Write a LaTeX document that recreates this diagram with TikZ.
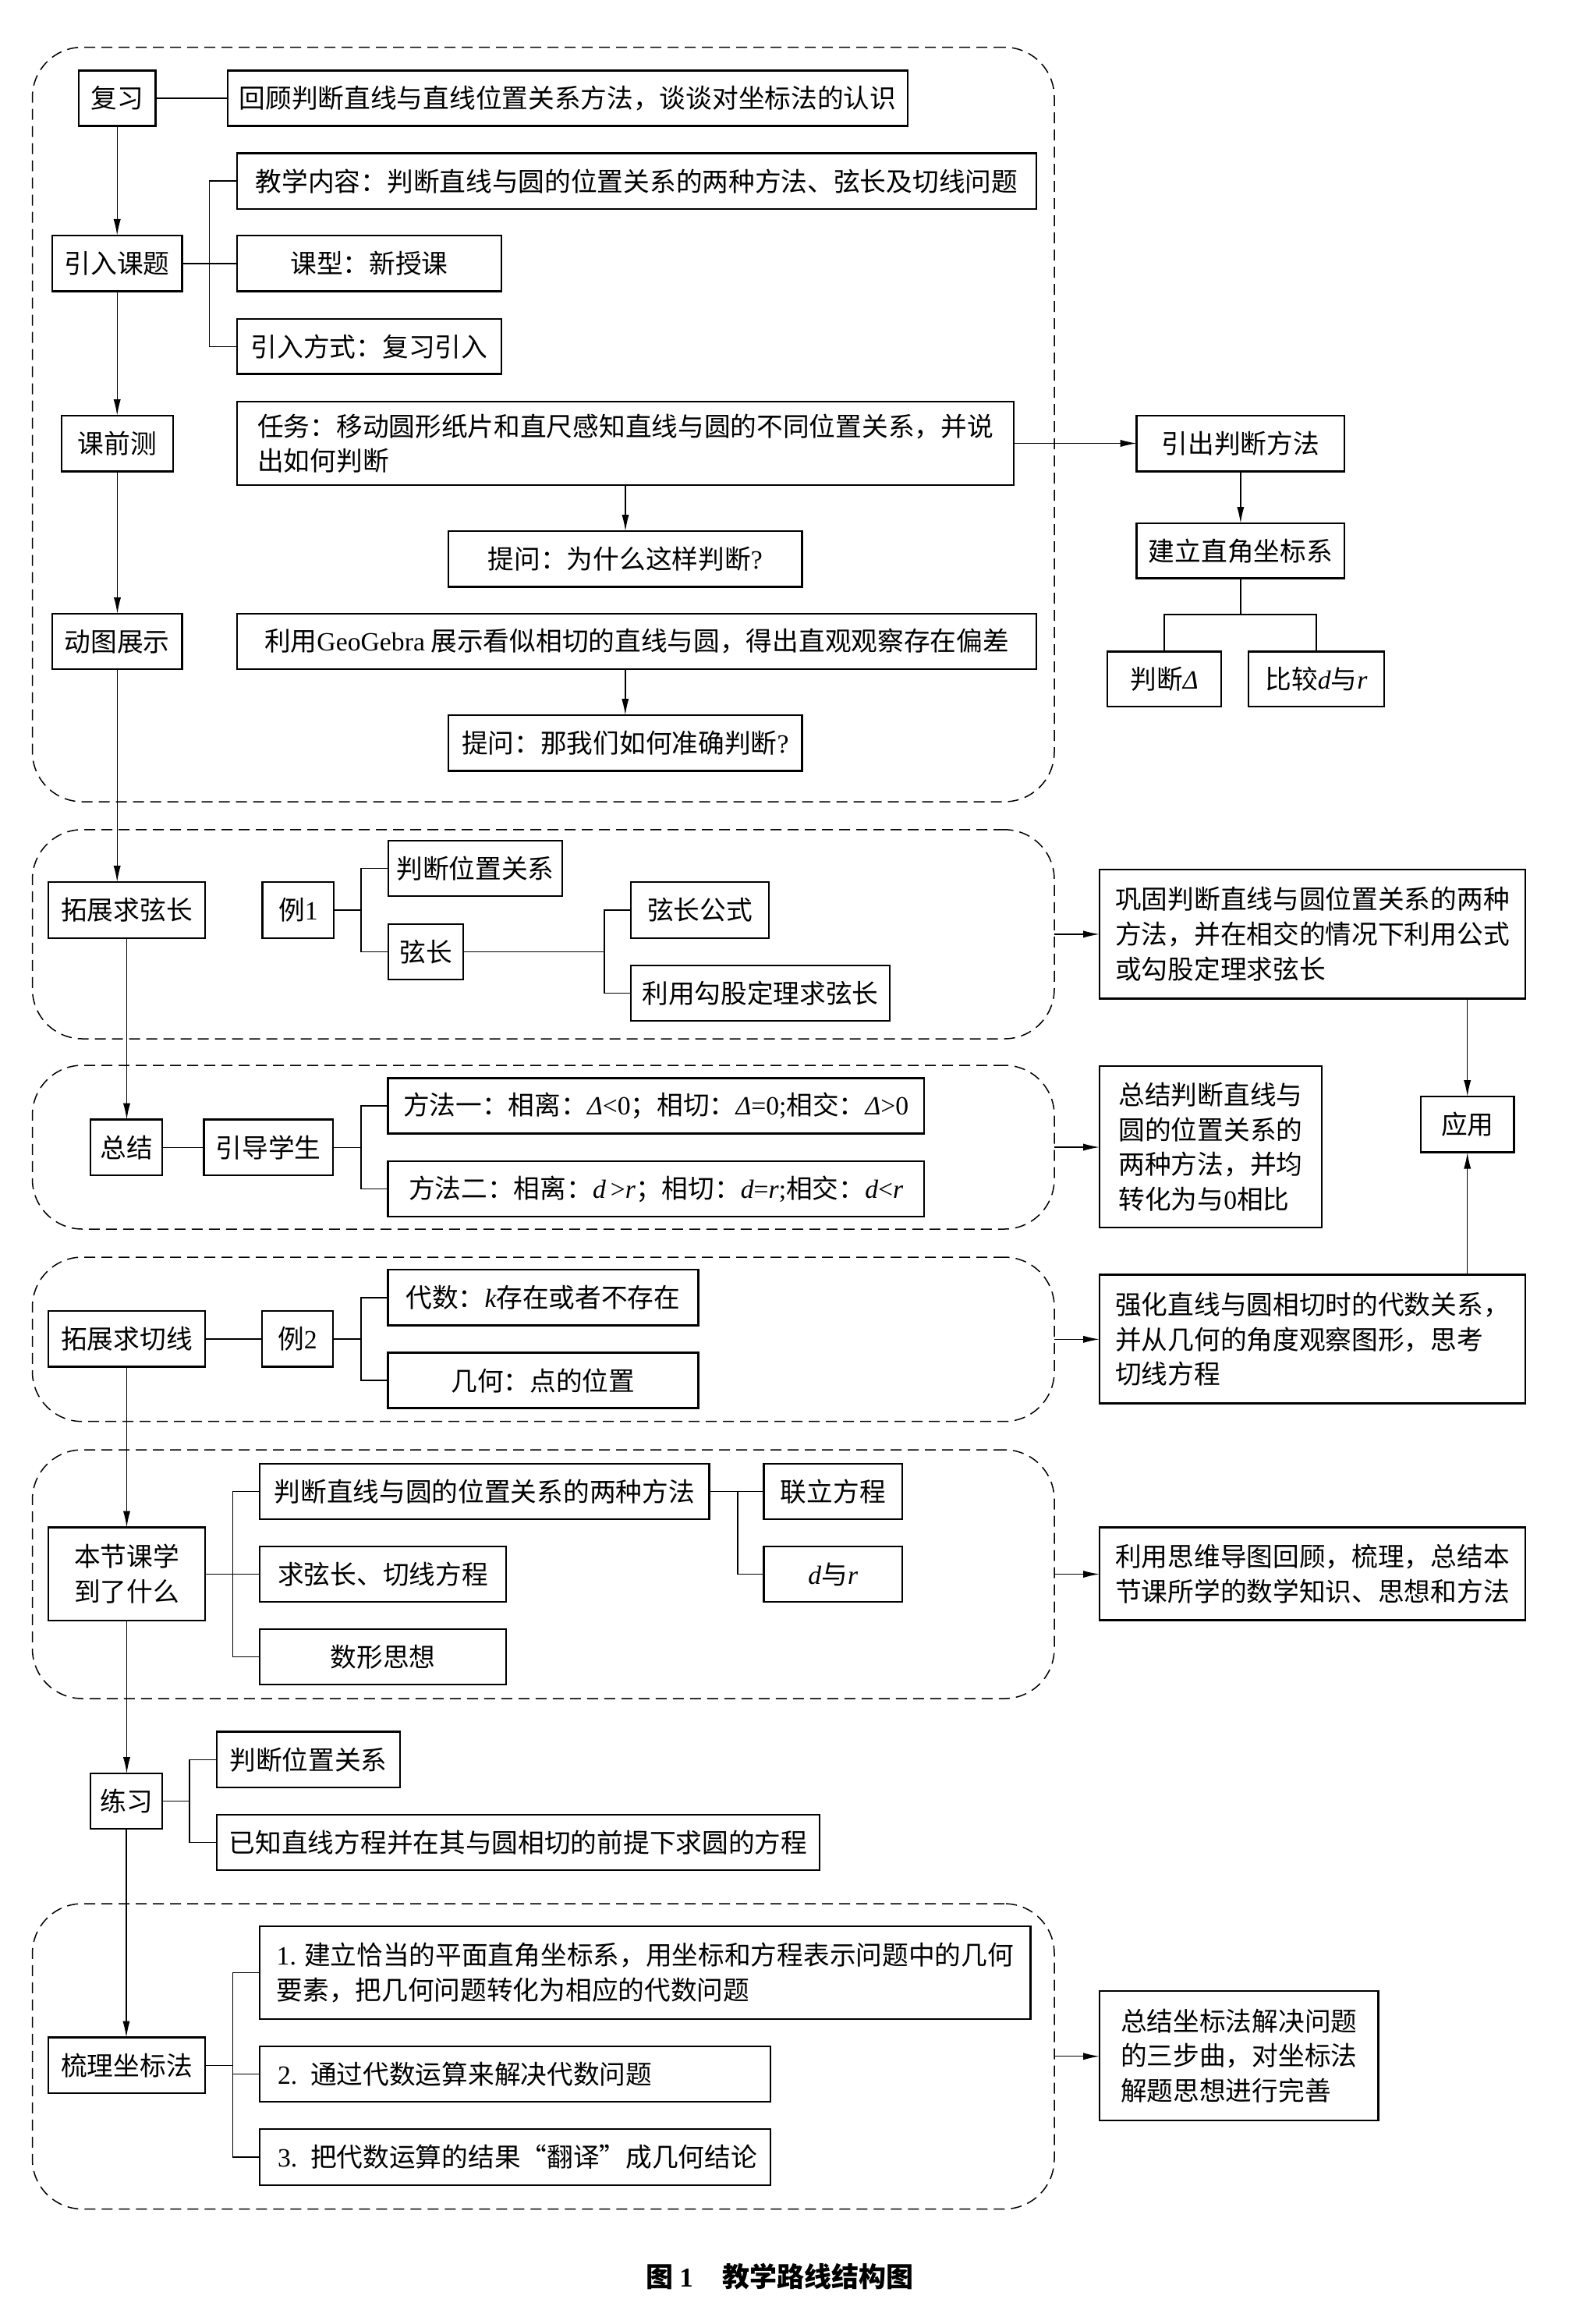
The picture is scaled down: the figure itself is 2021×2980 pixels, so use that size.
\documentclass[tikz,border=0pt]{standalone}
\usepackage{fontspec}
\setmainfont{Noto Sans CJK SC}
\newfontfamily\timesf{Liberation Serif}
\newcommand\tmr[1]{{\timesf #1}}
\newcommand\tmi[1]{{\timesf\itshape #1}}
\usetikzlibrary{arrows.meta}
\newcommand\mainsz{\fontsize{16.85pt}{22.3pt}\selectfont}
% box from corner (x1,y1) to (x2,y2) in reference pixels
\newcommand\mybox[7][]{%
  \pgfmathsetmacro\bxw{(#5-#3)*0.5}%
  \pgfmathsetmacro\bxh{(#6-#4)*0.5}%
  \pgfmathsetmacro\bxtw{(#5-#3)*0.5-23}%
  \pgfmathsetmacro\bxx{(#3+#5)/2}%
  \pgfmathsetmacro\bxy{(#4+#6)/2}%
  \node[bx,minimum width=\bxw pt,minimum height=\bxh pt,#1] (#2) at (\bxx,\bxy) {#7};}
\newcommand\mysectionbox[5]{%
  \pgfmathsetmacro\bxw{(#4-#2)*0.5}%
  \pgfmathsetmacro\bxh{(#5-#3)*0.5}%
  \pgfmathsetmacro\bxx{(#2+#4)/2}%
  \pgfmathsetmacro\bxy{(#3+#5)/2}%
  \node[dsec,minimum width=\bxw pt,minimum height=\bxh pt] (#1) at (\bxx,\bxy) {};}
\begin{document}
\begin{tikzpicture}[x=0.5pt,y=-0.5pt,line width=0.7pt,
  bx/.style={draw,line width=1.3pt,inner sep=0pt,outer sep=0pt,align=center,font=\mainsz},
  lft/.style={text width=\bxtw pt,align=left},
  dsec/.style={draw,line width=0.75pt,dash pattern=on 7pt off 4pt,rounded corners=32pt,inner sep=0pt,outer sep=0pt},
  arr/.style={-{Latex[length=10.5pt,width=4.6pt]},line width=0.7pt},
  conn/.style={line width=0.7pt}]
\useasboundingbox (0,0) rectangle (2021,2980);

% dashed sections
\mysectionbox{sec1}{41.5}{60.6}{1352}{1028}
\mysectionbox{sec2}{41.5}{1063.8}{1352}{1332}
\mysectionbox{sec3}{41.5}{1366}{1352}{1576}
\mysectionbox{sec4}{41.5}{1612}{1352}{1822.7}
\mysectionbox{sec5}{41.5}{1859}{1352}{2178}
\mysectionbox{sec6}{41.5}{2441}{1352}{2832.5}

% section 1
\mybox{fuxi}{100.8}{90.6}{199.6}{161.4}{复习}
\mybox{huigu}{292}{90.6}{1164}{161.4}{回顾判断直线与直线位置关系方法，谈谈对坐标法的认识}
\mybox{jxnr}{304}{196.4}{1329}{267.9}{教学内容：判断直线与圆的位置关系的两种方法、弦长及切线问题}
\mybox{yinru}{67}{302}{233.4}{373.7}{引入课题}
\mybox{kexing}{304}{302}{643}{373.7}{课型：新授课}
\mybox{yrfs}{304}{408.8}{643}{479.6}{引入方式：复习引入}
\mybox{kqc}{79}{533}{222}{604.6}{课前测}
\mybox[align=left]{renwu}{304}{515}{1300}{622}{任务：移动圆形纸片和直尺感知直线与圆的不同位置关系，并说\\出如何判断}
\mybox{tw1}{575}{681}{1028.6}{752.6}{提问：为什么这样判断\tmr{?}}
\mybox{dtzs}{67}{787}{233.4}{858}{动图展示}
\mybox{geo}{304}{787}{1329}{858}{利用\tmr{GeoGebra} 展示看似相切的直线与圆，得出直观观察存在偏差}
\mybox{tw2}{575}{917}{1028.6}{988.5}{提问：那我们如何准确判断\tmr{?}}
\mybox{yinchu}{1457.7}{533}{1724}{604.6}{引出判断方法}
\mybox{jianli}{1457.7}{671}{1724}{741.7}{建立直角坐标系}
\mybox{pdD}{1420}{835.5}{1566}{906}{判断\tmi{Δ}}
\mybox{bjdr}{1601}{835.5}{1775}{906}{比较\tmi{d}与\tmi{r}}

% section 2
\mybox{tzxc}{62}{1131}{263}{1203}{拓展求弦长}
\mybox{li1}{336.7}{1131}{428}{1203}{例\tmr{1}}
\mybox{pdwz}{498}{1078}{721}{1149}{判断位置关系}
\mybox{xc}{498}{1185}{594}{1256}{弦长}
\mybox{xcgs}{809}{1131}{986}{1203}{弦长公式}
\mybox{ggdl}{809}{1238}{1141}{1309}{利用勾股定理求弦长}
\mybox[align=left]{gg}{1410}{1114.8}{1956}{1280.6}{巩固判断直线与圆位置关系的两种\\方法，并在相交的情况下利用公式\\或勾股定理求弦长}

% section 3
\mybox{zj}{116}{1435.6}{208}{1507}{总结}
\mybox{ydxs}{261.5}{1435.6}{427}{1507}{引导学生}
\mybox{ff1}{497.4}{1382.6}{1185}{1453.4}{方法一：相离：\tmi{Δ}\tmr{<0}；相切：\tmi{Δ}\tmr{=0;}相交：\tmi{Δ}\tmr{>0}}
\mybox{ff2}{497.4}{1489}{1185}{1560}{方法二：相离：\tmi{d}\hspace{3pt}\tmr{>}\tmi{r}；相切：\tmi{d}\tmr{=}\tmi{r}\tmr{;}相交：\tmi{d}\tmr{<}\tmi{r}}
\mybox[align=left]{zjpd}{1410}{1367}{1695}{1574}{总结判断直线与\\圆的位置关系的\\两种方法，并均\\转化为与\tmr{0}相比}
\mybox{yy}{1822}{1406}{1941.4}{1477.7}{应用}

% section 4
\mybox{tzqx}{62}{1681}{263}{1752.6}{拓展求切线}
\mybox{li2}{336}{1681}{427}{1752.6}{例\tmr{2}}
\mybox{ds}{497.4}{1628}{895.4}{1699.6}{代数：\tmi{k}存在或者不存在}
\mybox{jh}{497.4}{1734.7}{895.4}{1805.5}{几何：点的位置}
\mybox[align=left]{qh}{1410}{1634.6}{1956}{1799.7}{强化直线与圆相切时的代数关系，\\并从几何的角度观察图形，思考\\切线方程}

% section 5
\mybox{bjk}{62}{1958.5}{263}{2078}{本节课学\\到了什么}
\mybox{pdff}{333}{1877}{909.4}{1948}{判断直线与圆的位置关系的两种方法}
\mybox{qxc}{333}{1983}{649}{2054}{求弦长、切线方程}
\mybox{sxsx}{333}{2089}{649}{2160}{数形思想}
\mybox{lianli}{979.6}{1877}{1157}{1948}{联立方程}
\mybox{dyr}{979.6}{1983}{1157}{2054}{\tmi{d}与\tmi{r}}
\mybox[align=left]{lysw}{1410}{1958.5}{1956}{2077.5}{利用思维导图回顾，梳理，总结本\\节课所学的数学知识、思想和方法}

% practice
\mybox{lx}{116}{2274}{208}{2345}{练习}
\mybox{pdwz2}{278}{2220.6}{513}{2292}{判断位置关系}
\mybox{yz}{278}{2327}{1051}{2398}{已知直线方程并在其与圆相切的前提下求圆的方程}

% section 6
\mybox{slzb}{62}{2612.5}{263}{2684}{梳理坐标法}
\mybox[align=left]{it1}{333}{2470}{1321.6}{2589}{\tmr{1.} 建立恰当的平面直角坐标系，用坐标和方程表示问题中的几何\\要素，把几何问题转化为相应的代数问题}
\mybox[lft]{it2}{333}{2624}{988}{2695}{\tmr{2.} 通过代数运算来解决代数问题}
\mybox[lft]{it3}{333}{2730}{988}{2802}{\tmr{3.} 把代数运算的结果“翻译”成几何结论}
\mybox[align=left]{zjzb}{1410}{2553}{1767.6}{2719}{总结坐标法解决问题\\的三步曲，对坐标法\\解题思想进行完善}

% caption
\node[font=\fontsize{17.5pt}{20pt}\selectfont\bfseries] (cap) at (1000,2919) {图\hspace{4pt}\tmr{1}\hspace{19pt}教学路线结构图};

% main spine
\draw[arr] (fuxi.south) -- (yinru.north);
\draw[arr] (yinru.south) -- (yinru.south |- kqc.north);
\draw[arr] (kqc.south) -- (kqc.south |- dtzs.north);
\draw[arr] (dtzs.south) -- (dtzs.south |- tzxc.north);
\draw[arr] (tzxc.south) -- (tzxc.south |- zj.north);
\draw[arr] (tzqx.south) -- (tzqx.south |- bjk.north);
\draw[arr] (bjk.south) -- (bjk.south |- lx.north);
\draw[arr] (lx.south) -- (lx.south |- slzb.north);

% section 1 links
\draw[conn] (fuxi.east) -- (huigu.west);
\draw[conn] (yinru.east) -- (kexing.west);
\draw[conn] (jxnr.west) -- ++(-35.5,0) |- (yrfs.west);
\draw[arr] (renwu.south) -- (renwu.south |- tw1.north);
\draw[arr] (tw2.north |- geo.south) -- (tw2.north);
\draw[arr] (renwu.east) -- (renwu.east -| yinchu.west);
\draw[arr] (yinchu.south) -- (jianli.north);
\draw[conn] (jianli.south) -- ++(0,46.3) coordinate (tj);
\draw[conn] (pdD.north) |- (tj) -| (bjdr.north);

% section 2 links
\draw[conn] (li1.east) -- ++(35,0) coordinate (b1);
\draw[conn] (pdwz.west) -| (b1) |- (xc.west);
\draw[conn] (xc.east) -- ++(181,0) coordinate (b2);
\draw[conn] (xcgs.west) -| (b2) |- (ggdl.west);

% section 3 links
\draw[conn] (zj.east) -- (ydxs.west);
\draw[conn] (ydxs.east) -- ++(36,0) coordinate (b3);
\draw[conn] (ff1.west) -| (b3) |- (ff2.west);

% section 4 links
\draw[conn] (tzqx.east) -- (li2.west);
\draw[conn] (li2.east) -- ++(36,0) coordinate (b4);
\draw[conn] (ds.west) -| (b4) |- (jh.west);

% section 5 links
\draw[conn] (bjk.east) -- (bjk.east -| qxc.west);
\draw[conn] (pdff.west) -- ++(-34.5,0) |- (sxsx.west);
\draw[conn] (pdff.east) -- (pdff.east -| lianli.west);
\draw[conn] (pdff.east) ++(36.4,0) coordinate (b6) |- (dyr.west);

% practice links
\draw[conn] (lx.east) -- ++(35,0) coordinate (b7);
\draw[conn] (pdwz2.west) -| (b7) |- (yz.west);

% section 6 links
\draw[conn] (slzb.east) -- ++(35.5,0) coordinate (b8);
\draw[conn] (it1.west) -| (b8) |- (it3.west);
\draw[conn] (it2.west) -- (it2.west -| b8);

% right side
\draw[arr] (sec2.east) -- (sec2.east -| gg.west);
\draw[arr] (sec3.east) -- (sec3.east -| zjpd.west);
\draw[arr] (sec4.east) -- (sec4.east -| qh.west);
\draw[arr] (sec5.east) -- (sec5.east -| lysw.west);
\draw[arr] (sec6.east) -- (sec6.east -| zjzb.west);
\draw[arr] (yy.north |- gg.south) -- (yy.north);
\draw[arr] (yy.south |- qh.north) -- (yy.south);
\end{tikzpicture}
\end{document}
